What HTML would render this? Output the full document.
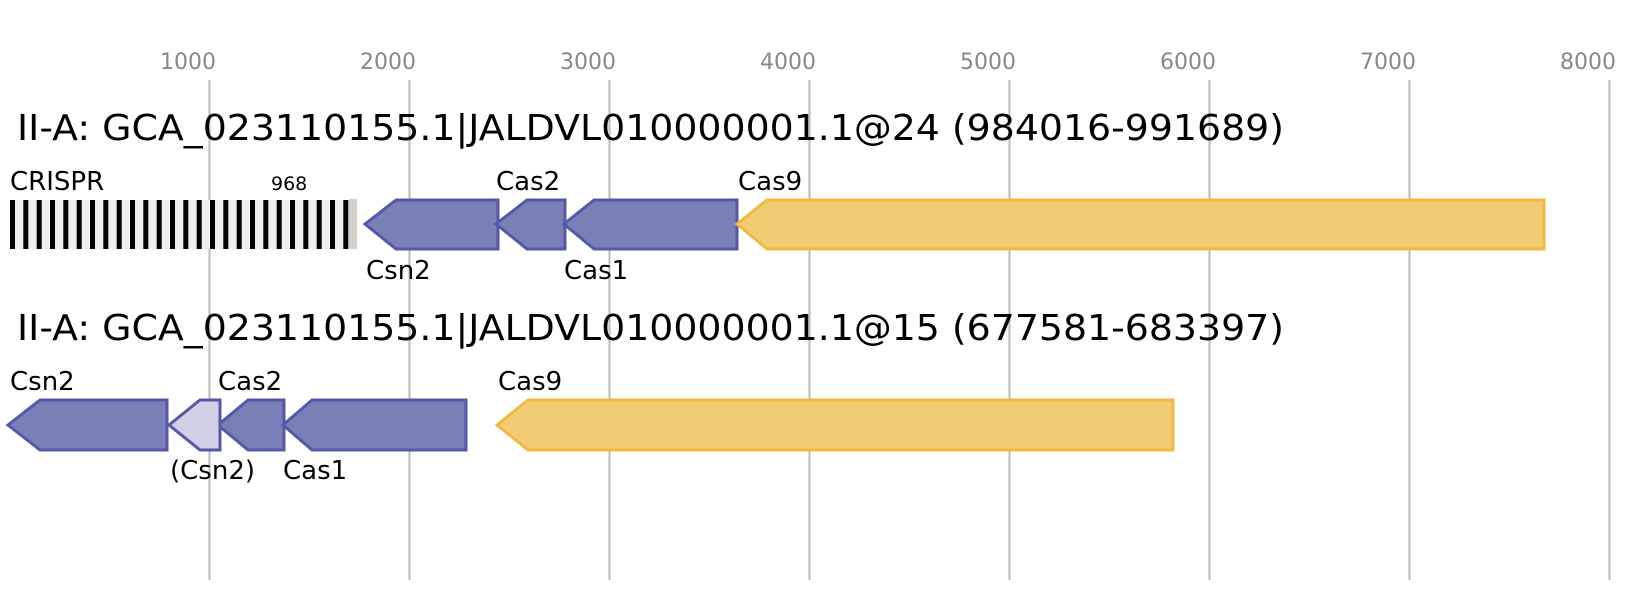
<!DOCTYPE html>
<html><head><style>body{margin:0;background:#fff}svg{display:block}</style></head>
<body>
<svg width="1635" height="600" xmlns="http://www.w3.org/2000/svg" font-family="DejaVu Sans, Liberation Sans, sans-serif">
<g stroke="#bbb" stroke-width="2">
<line x1="209.5" y1="80" x2="209.5" y2="580"/><line x1="409.5" y1="80" x2="409.5" y2="580"/>
<line x1="609.5" y1="80" x2="609.5" y2="580"/><line x1="809.5" y1="80" x2="809.5" y2="580"/>
<line x1="1009.5" y1="80" x2="1009.5" y2="580"/><line x1="1209.5" y1="80" x2="1209.5" y2="580"/>
<line x1="1409.5" y1="80" x2="1409.5" y2="580"/><line x1="1609.5" y1="80" x2="1609.5" y2="580"/>
</g>
<g fill="#888" font-size="22" text-anchor="end">
<text x="216" y="69">1000</text><text x="416" y="69">2000</text><text x="616" y="69">3000</text><text x="816" y="69">4000</text>
<text x="1016" y="69">5000</text><text x="1216" y="69">6000</text><text x="1416" y="69">7000</text><text x="1616" y="69">8000</text>
</g>
<text x="17" y="140" font-size="36" textLength="1267" lengthAdjust="spacingAndGlyphs">II-A: GCA_023110155.1|JALDVL010000001.1@24 (984016-991689)</text>
<text x="17" y="340" font-size="36" textLength="1267" lengthAdjust="spacingAndGlyphs">II-A: GCA_023110155.1|JALDVL010000001.1@15 (677581-683397)</text>
<g font-size="26">
<text x="10" y="190">CRISPR</text>
<text x="271" y="190" font-size="19">968</text>
<text x="496" y="190">Cas2</text>
<text x="738" y="190">Cas9</text>
<text x="366" y="279">Csn2</text>
<text x="564" y="279">Cas1</text>
<text x="10" y="390">Csn2</text>
<text x="218" y="390">Cas2</text>
<text x="498" y="390">Cas9</text>
<text x="170" y="479">(Csn2)</text>
<text x="283" y="479">Cas1</text>
</g>
<rect x="10" y="200" width="340" height="49" fill="#eee"/>
<g fill="#000">
<rect x="10" y="200" width="5" height="49"/><rect x="23.3" y="200" width="5" height="49"/><rect x="36.7" y="200" width="5" height="49"/><rect x="50" y="200" width="5" height="49"/>
<rect x="63.3" y="200" width="5" height="49"/><rect x="76.7" y="200" width="5" height="49"/><rect x="90" y="200" width="5" height="49"/><rect x="103.3" y="200" width="5" height="49"/>
<rect x="116.7" y="200" width="5" height="49"/><rect x="130" y="200" width="5" height="49"/><rect x="143.3" y="200" width="5" height="49"/><rect x="156.7" y="200" width="5" height="49"/>
<rect x="170" y="200" width="5" height="49"/><rect x="183.3" y="200" width="5" height="49"/><rect x="196.7" y="200" width="5" height="49"/><rect x="210" y="200" width="5" height="49"/>
<rect x="223.3" y="200" width="5" height="49"/><rect x="236.7" y="200" width="5" height="49"/><rect x="250" y="200" width="5" height="49"/><rect x="263.3" y="200" width="5" height="49"/>
<rect x="276.7" y="200" width="5" height="49"/><rect x="290" y="200" width="5" height="49"/><rect x="303.3" y="200" width="5" height="49"/><rect x="316.7" y="200" width="5" height="49"/>
<rect x="330" y="200" width="5" height="49"/><rect x="343.3" y="200" width="5" height="49"/>
</g>
<rect x="349" y="199" width="8" height="50" fill="#d8cfc8"/>
<g stroke-width="3" stroke-linejoin="miter">
<g fill="#7b7fb8" stroke="#5558a6">
<polygon points="365,224 396,200 498,200 498,249 396,249"/>
<polygon points="496,224 527,200 565,200 565,249 527,249"/>
<polygon points="564,224 594,200 737,200 737,249 594,249"/>
<polygon points="8,425 40,400 167,400 167,450 40,450"/>
<polygon points="218,425 248,400 284,400 284,450 248,450"/>
<polygon points="283,425 312,400 466,400 466,450 312,450"/>
</g>
<polygon points="169,425 200,400 220,400 220,450 200,450" fill="#cfd0e6" stroke="#5558a6"/>
<g fill="#f2cc73" stroke="#f0b940">
<polygon points="737,224 767,200 1544,200 1544,249 767,249"/>
<polygon points="497,425 528,400 1173,400 1173,450 528,450"/>
</g>
</g>
</svg>
</body></html>
